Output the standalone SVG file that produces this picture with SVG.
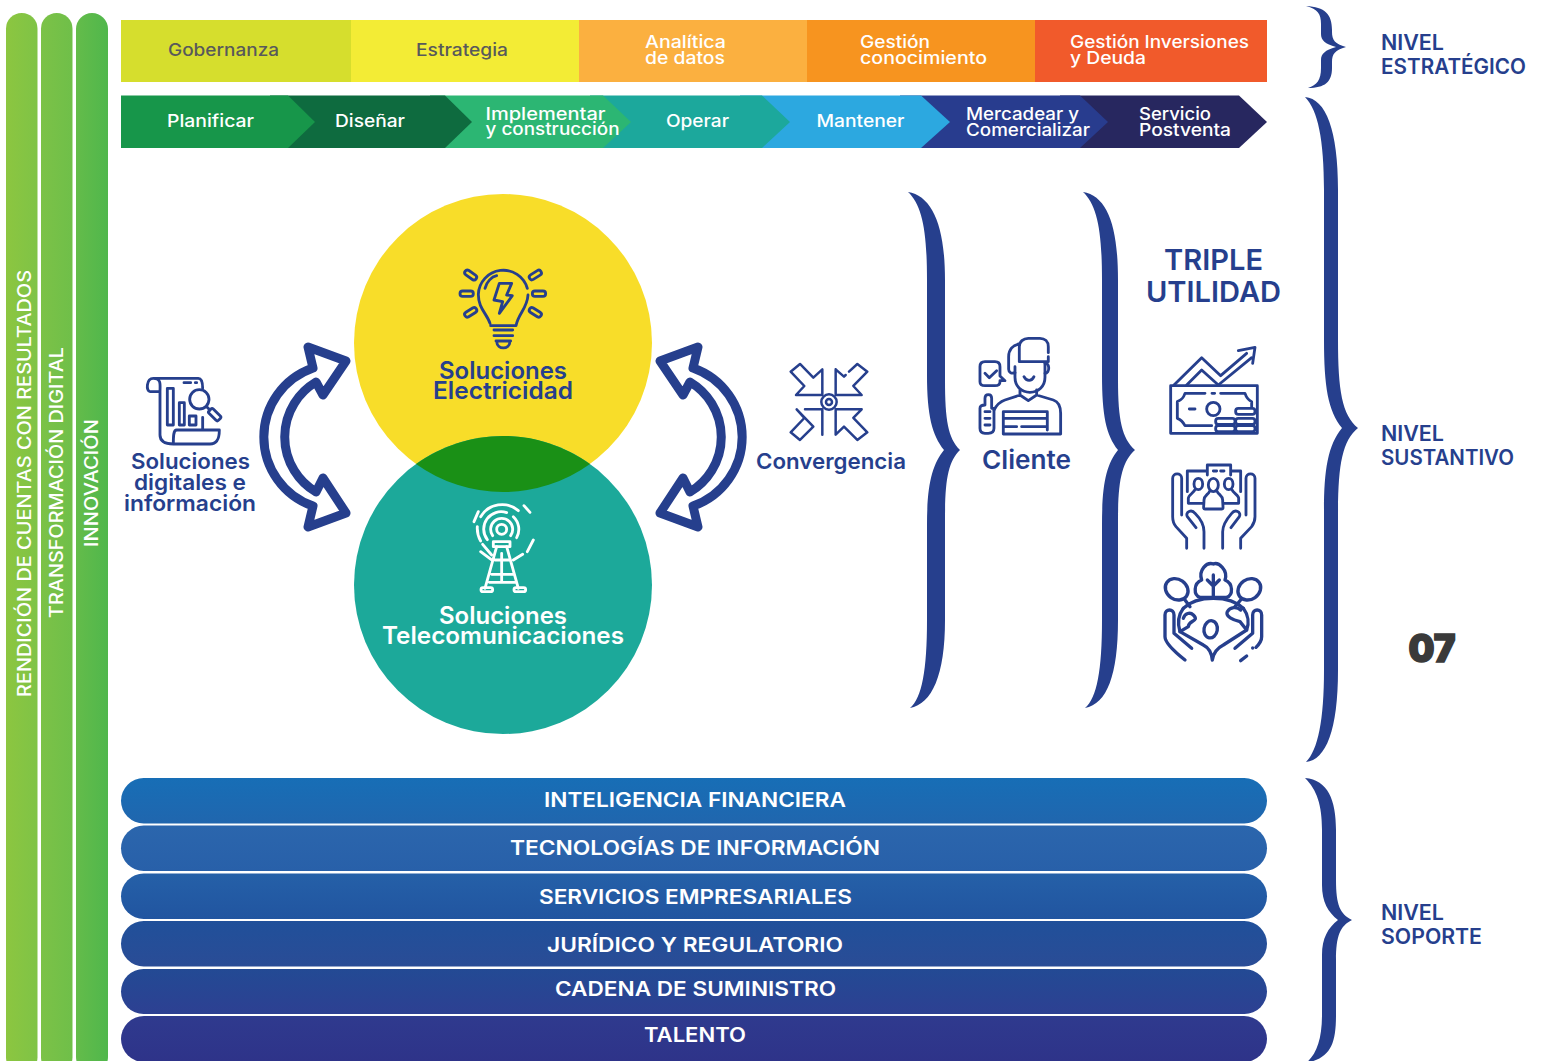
<svg xmlns="http://www.w3.org/2000/svg" width="1541" height="1061" viewBox="0 0 1541 1061">
<style>
text{font-family:"Inter","Liberation Sans",sans-serif;font-weight:500}
.w{fill:#fff}.g{fill:#58595b}.b{fill:#263f8d;font-weight:600}
.s16{font-size:17px}.s18{font-size:18px}.s22{font-size:22px}.s24{font-size:24px;font-weight:600}.s21{font-size:21px;font-weight:600}
.s19{font-size:20px;font-weight:600}
.i{fill:none;stroke:#263f8d;stroke-width:8.5;stroke-linecap:round;stroke-linejoin:round}
.t{fill:none;stroke:#fff;stroke-width:8.5;stroke-linecap:round;stroke-linejoin:round}
.brace{fill:#263f8d}
.cyc{fill:#fff;stroke:#263f8d;stroke-width:9;stroke-linejoin:round}
</style>
<defs>
<linearGradient id="b1" x1="0" x2="1" y1="0" y2="0"><stop offset="0" stop-color="#8cc640"/><stop offset="1" stop-color="#7fc346"/></linearGradient>
<linearGradient id="b2" x1="0" x2="1" y1="0" y2="0"><stop offset="0" stop-color="#7cc247"/><stop offset="1" stop-color="#6fbf49"/></linearGradient>
<linearGradient id="b3" x1="0" x2="1" y1="0" y2="0"><stop offset="0" stop-color="#64bc4a"/><stop offset="1" stop-color="#50b74c"/></linearGradient>
<linearGradient id="p1" x1="0" x2="0" y1="0" y2="1"><stop offset="0" stop-color="#176eb6"/><stop offset="1" stop-color="#2066ae"/></linearGradient>
<linearGradient id="p2" x1="0" x2="0" y1="0" y2="1"><stop offset="0" stop-color="#2b66ad"/><stop offset="1" stop-color="#2860a9"/></linearGradient>
<linearGradient id="p3" x1="0" x2="0" y1="0" y2="1"><stop offset="0" stop-color="#2560a8"/><stop offset="1" stop-color="#2155a0"/></linearGradient>
<linearGradient id="p4" x1="0" x2="0" y1="0" y2="1"><stop offset="0" stop-color="#20509a"/><stop offset="1" stop-color="#2a4c96"/></linearGradient>
<linearGradient id="p5" x1="0" x2="0" y1="0" y2="1"><stop offset="0" stop-color="#234a94"/><stop offset="1" stop-color="#2d4092"/></linearGradient>
<linearGradient id="p6" x1="0" x2="0" y1="0" y2="1"><stop offset="0" stop-color="#2f3a8e"/><stop offset="1" stop-color="#2e3389"/></linearGradient>
</defs>
<rect width="1541" height="1061" fill="#fff"/>

<g id="eje-rendicion"><rect x="6" y="13" width="31.5" height="1060" rx="15.7" fill="url(#b1)"/>
<text class="w s18" transform="translate(30.5 697) rotate(-90)" textLength="427" lengthAdjust="spacingAndGlyphs">RENDICIÓN DE CUENTAS CON RESULTADOS</text></g>
<g id="eje-transformacion"><rect x="41" y="13" width="31.5" height="1060" rx="15.7" fill="url(#b2)"/>
<text class="w s18" transform="translate(62.5 618) rotate(-90)" textLength="271" lengthAdjust="spacingAndGlyphs">TRANSFORMACIÓN DIGITAL</text></g>
<g id="eje-innovacion"><rect x="76" y="13" width="32" height="1060" rx="16" fill="url(#b3)"/>
<text class="w s18" transform="translate(97.5 547) rotate(-90)" textLength="128" lengthAdjust="spacingAndGlyphs">INNOVACIÓN</text></g>

<g id="gobernanza"><rect x="121" y="20" width="230" height="62" fill="#d6de2d"/><text class="g s16" x="168" y="56" textLength="111" lengthAdjust="spacingAndGlyphs">Gobernanza</text></g>
<g id="estrategia"><rect x="351" y="20" width="228" height="62" fill="#f3ec35"/><text class="g s16" x="416" y="56" textLength="92" lengthAdjust="spacingAndGlyphs">Estrategia</text></g>
<g id="analitica"><rect x="579" y="20" width="228" height="62" fill="#fbb040"/><text class="w s16" x="645" y="48" textLength="81" lengthAdjust="spacingAndGlyphs">Analítica</text><text class="w s16" x="645" y="64" textLength="80" lengthAdjust="spacingAndGlyphs">de datos</text></g>
<g id="gestion-conocimiento"><rect x="807" y="20" width="228" height="62" fill="#f7941f"/><text class="w s16" x="860" y="48" textLength="70" lengthAdjust="spacingAndGlyphs">Gestión</text><text class="w s16" x="860" y="64" textLength="127" lengthAdjust="spacingAndGlyphs">conocimiento</text></g>
<g id="gestion-inversiones"><rect x="1035" y="20" width="232" height="62" fill="#f15a2b"/><text class="w s16" x="1070" y="48" textLength="179" lengthAdjust="spacingAndGlyphs">Gestión Inversiones</text><text class="w s16" x="1070" y="64" textLength="76" lengthAdjust="spacingAndGlyphs">y Deuda</text></g>

<g id="servicio"><polygon points="1060,95.5 1239,95.5 1267,122 1239,148 1060,148" fill="#27275f"/><text class="w s16" x="1139" y="120" textLength="72" lengthAdjust="spacingAndGlyphs">Servicio</text><text class="w s16" x="1139" y="136" textLength="92" lengthAdjust="spacingAndGlyphs">Postventa</text></g>
<g id="mercadear"><polygon points="900,95.5 1080,95.5 1108,122 1080,148 900,148" fill="#283c8e"/><text class="w s16" x="966" y="120" textLength="113" lengthAdjust="spacingAndGlyphs">Mercadear y</text><text class="w s16" x="966" y="136" textLength="124" lengthAdjust="spacingAndGlyphs">Comercializar</text></g>
<g id="mantener"><polygon points="740,95.5 921,95.5 950,122 921,148 740,148" fill="#2ca8e0"/><text class="w s16" x="816.5" y="127" textLength="88" lengthAdjust="spacingAndGlyphs">Mantener</text></g>
<g id="operar"><polygon points="590,95.5 762,95.5 790,122 762,148 590,148" fill="#1ca89c"/><text class="w s16" x="666" y="127" textLength="63" lengthAdjust="spacingAndGlyphs">Operar</text></g>
<g id="implementar"><polygon points="430,95.5 603,95.5 631,122 603,148 430,148" fill="#2cb673"/><text class="w s16" x="485.5" y="120" textLength="120" lengthAdjust="spacingAndGlyphs">Implementar</text><text class="w s16" x="485.5" y="135" textLength="134" lengthAdjust="spacingAndGlyphs">y construcción</text></g>
<g id="disenar"><polygon points="270,95.5 445,95.5 472,122 445,148 270,148" fill="#0e6b3f"/><text class="w s16" x="335" y="127" textLength="70" lengthAdjust="spacingAndGlyphs">Diseñar</text></g>
<g id="planificar"><polygon points="121,95.5 288,95.5 315,122 288,148 121,148" fill="#17964a"/><text class="w s16" x="167" y="127" textLength="87" lengthAdjust="spacingAndGlyphs">Planificar</text></g>

<g id="connectors">
<path class="cyc" d="M346 361L308 347L313 368A73 73 0 0 0 313 506L308 527L346 513L323 478L316 492A64 64 0 0 1 316 382L323 395Z"/>
<path class="cyc" transform="translate(1006 0) scale(-1 1)" d="M346 361L308 347L313 368A73 73 0 0 0 313 506L308 527L346 513L323 478L316 492A64 64 0 0 1 316 382L323 395Z"/>
<path class="brace" d="M908 192C932 196 945 225 945 280L945 380C945 420 948 438 960 450C948 462 945 480 945 520L945 620C945 675 932 704 910 708C922 698 927 670 927 620L927 525C927 485 932 465 944 450C932 435 927 415 927 375L927 280C927 230 922 205 908 192Z"/>
<path class="brace" d="M1083 192C1107 196 1118 225 1118 280L1118 380C1118 420 1122 438 1135 450C1122 462 1118 480 1118 520L1118 620C1118 675 1107 704 1085 708C1097 698 1102 670 1102 620L1102 525C1102 485 1106 465 1118 450C1106 435 1102 415 1102 375L1102 280C1102 230 1097 205 1083 192Z"/>
<path class="brace" d="M1305 97C1326 99 1338 130 1338 190L1338 340C1338 390 1342 415 1358 428C1342 441 1338 466 1338 516L1338 670C1338 730 1326 760 1306 762C1318 750 1324 720 1324 670L1324 510C1324 470 1328 445 1342 428C1328 411 1324 386 1324 340L1324 190C1324 140 1318 110 1305 97Z"/>
<path class="brace" d="M1306 6C1325 7 1332 14 1332 30L1332 32C1332 40 1335 44 1346 47C1335 50 1332 54 1332 62L1332 68C1332 82 1325 88 1308 88C1317 85 1321 80 1321 68L1321 60C1321 54 1325 50 1336 47C1325 44 1321 40 1321 34L1321 24C1321 14 1318 9 1306 6Z"/>
<path class="brace" d="M1305 778C1328 780 1336 800 1336 830L1336 880C1336 905 1340 914 1352 920C1340 926 1336 936 1336 960L1336 1015C1336 1045 1330 1058 1306 1063C1316 1055 1322 1040 1322 1015L1322 955C1322 938 1328 928 1338 920C1328 912 1322 902 1322 885L1322 830C1322 805 1317 790 1305 778Z"/>
</g>

<g id="soluciones-electricidad"><circle cx="503" cy="343" r="149" fill="#f8dd29"/></g>
<g id="soluciones-telecomunicaciones"><circle cx="503" cy="585" r="149" fill="#1ca99a"/>
<path d="M416 464A149 149 0 0 1 590 464A149 149 0 0 1 416 464Z" fill="#1a9016"/></g>

<g id="label-electricidad">
<text class="b s24" x="439" y="378.5" textLength="128" lengthAdjust="spacingAndGlyphs">Soluciones</text>
<text class="b s24" x="433" y="398.5" textLength="140" lengthAdjust="spacingAndGlyphs">Electricidad</text>
<g class="i" transform="translate(440 255) scale(.3333)">
<path d="M150 205C140 175 115 160 115 118A75 75 0 0 1 262 100M264 120C262 160 235 175 228 212L152 212"/>
<path d="M135 100C140 80 155 65 170 62"/>
<path d="M178 85L215 85L200 120L217 122L178 175L188 140L162 135Z"/>
<path d="M162 225H218M162 242H218M168 258H212M170 260C172 285 208 285 210 260"/>
<rect x="-20" y="-8" width="40" height="16" rx="8" transform="translate(92 60) rotate(35)"/>
<rect x="-20" y="-8" width="40" height="16" rx="8" transform="translate(80 116)"/>
<rect x="-20" y="-8" width="40" height="16" rx="8" transform="translate(92 172) rotate(-32)"/>
<rect x="-20" y="-8" width="40" height="16" rx="8" transform="translate(286 60) rotate(-32)"/>
<rect x="-20" y="-8" width="40" height="16" rx="8" transform="translate(297 116)"/>
<rect x="-20" y="-8" width="40" height="16" rx="8" transform="translate(286 172) rotate(32)"/>
</g></g>

<g id="label-telecomunicaciones">
<text class="w s24" x="439" y="623.5" textLength="128" lengthAdjust="spacingAndGlyphs">Soluciones</text>
<text class="w s24" x="382" y="643.5" textLength="242" lengthAdjust="spacingAndGlyphs">Telecomunicaciones</text>
<g class="t" transform="translate(450 495) scale(.3333)">
<circle cx="155" cy="103" r="15"/>
<path d="M128 122A33 33 0 1 1 182 122"/>
<path d="M112 134A52 52 0 0 1 170 53M190 65A52 52 0 0 1 200 128"/>
<path d="M92 65A75 75 0 0 1 205 47M82 95A75 75 0 0 0 92 138M72 80L85 50M222 32L240 52M250 135L232 170M98 148L125 180M92 170L125 195M218 178L190 195"/>
<path d="M130 140H180L180 155H130Z"/>
<path d="M140 155L105 280M170 155L205 280M135 195H178M125 238H190M118 262H195M155 175V262"/>
<rect x="93" y="278" width="35" height="12" rx="6"/><rect x="192" y="278" width="35" height="12" rx="6"/>
</g></g>

<g id="soluciones-digitales">
<g class="i" transform="translate(120 330) scale(.3333)">
<path d="M120 185H90C78 185 78 145 100 145H235C248 145 248 165 248 175M100 145C125 145 120 165 120 185V315C120 335 135 342 160 342H270C295 342 298 320 298 300H170C160 300 160 320 160 342M248 262V300"/>
<rect x="142" y="175" width="18" height="110"/><rect x="178" y="218" width="15" height="67"/><rect x="208" y="258" width="20" height="27"/>
<path d="M192 158H212M226 158H230"/>
<circle cx="238" cy="208" r="29"/>
<path d="M260 230L270 240"/>
<rect x="-20" y="-9" width="40" height="18" rx="5" transform="translate(284 254) rotate(45)"/>
</g>
<text class="b s22" x="131" y="469" textLength="119" lengthAdjust="spacingAndGlyphs">Soluciones</text>
<text class="b s22" x="134" y="490" textLength="112" lengthAdjust="spacingAndGlyphs">digitales e</text>
<text class="b s22" x="124" y="511" textLength="132" lengthAdjust="spacingAndGlyphs">información</text>
</g>

<g id="convergencia">
<g class="i" style="stroke-width:7.5" transform="translate(770 330) scale(.3333)">
<circle cx="177" cy="216" r="23"/><circle cx="177" cy="216" r="9"/>
<path d="M157 118V195H78L103 168L62 125L90 102L130 143Z"/>
<path d="M197 118V195H275L250 168L292 125L262 102L237 125M227 135L222 140L197 118"/>
<path d="M157 314V238H105M80 238L103 264L62 307L90 330L130 290Z"/>
<path d="M197 314V238H275L250 264L292 307L262 330L222 290Z"/>
</g>
<text class="b s22" x="756" y="469" textLength="150" lengthAdjust="spacingAndGlyphs">Convergencia</text>
</g>

<g id="cliente">
<g class="i" transform="translate(770 330) scale(.3333)">
<path d="M748 95V50C748 35 760 25 775 25H810C825 25 835 35 835 50V68M835 80V95H750"/>
<path d="M748 42C728 45 716 60 716 80V118C716 128 725 132 735 128"/>
<path d="M735 110V142C735 170 755 187 780 187C805 187 825 170 825 142V98"/>
<path d="M825 100C840 98 840 130 825 130M762 140C770 155 785 155 792 140"/>
<path d="M750 180V195L775 212L800 195V180M750 195L705 210C690 215 680 225 672 240M800 195L850 210C865 215 872 230 872 250V312H700V245H832V300M700 265H832M700 290H740M755 290H832"/>
<path d="M645 95H675C685 95 690 100 690 110V138L705 152H690V155C690 162 685 167 675 167H645C635 167 630 162 630 155V110C630 100 635 95 645 95ZM645 130L658 143L680 122"/>
<path d="M645 225V205C645 190 665 190 665 205V235H672V295C672 305 665 310 655 310H645C635 310 630 305 630 295V235C630 228 636 225 645 225ZM645 245H660M645 265H660M645 285H660"/>
</g>
<text class="b" style="font-size:26px" x="982" y="469" textLength="89" lengthAdjust="spacingAndGlyphs">Cliente</text>
</g>

<g id="triple-utilidad">
<text class="b" style="font-size:29px" x="1164" y="270" textLength="99" lengthAdjust="spacingAndGlyphs">TRIPLE</text>
<text class="b" style="font-size:29px" x="1146" y="302" textLength="135" lengthAdjust="spacingAndGlyphs">UTILIDAD</text>
<g class="i" transform="translate(1150 335) scale(.3333)">
<rect x="62" y="152" width="260" height="143"/>
<path d="M72 150L155 68L212 122L290 55M265 47L315 37L308 85M110 150L155 105L205 150L305 68"/>
<path d="M165 175H105C100 190 95 195 82 200V250C95 255 100 262 105 272H185M212 175H285C290 190 295 195 305 200V215M186 175H194M118 222H135"/>
<circle cx="190" cy="222" r="20"/>
<rect x="197" y="250" width="58" height="18" rx="8"/><rect x="197" y="272" width="58" height="18" rx="8"/>
<rect x="257" y="220" width="58" height="18" rx="8"/><rect x="257" y="250" width="58" height="18" rx="8"/><rect x="257" y="272" width="58" height="18" rx="8"/>
<path d="M172 408V390H242V420M172 420V408H112V470M242 408H272V470M190 408H200M212 408H222"/>
<ellipse cx="145" cy="447" rx="13" ry="17"/><ellipse cx="190" cy="450" rx="15" ry="20"/><ellipse cx="236" cy="447" rx="13" ry="17"/>
<path d="M165 522C158 522 162 515 162 495C162 482 175 478 178 470M215 522C222 522 218 515 218 495C218 482 205 478 202 470M165 522H215M115 505V490C115 480 130 475 135 464M266 505V490C266 480 250 475 246 464M115 505H160M220 505H266"/>
<path d="M68 430C68 412 95 412 95 430V540M110 640V610L78 575C70 565 68 555 68 545V430M162 640V590C162 570 150 550 135 535C125 522 105 530 112 545L138 578"/>
<path d="M315 430C315 412 288 412 288 430V540M272 640V610L305 575C312 565 315 555 315 545V430M218 640V590C218 570 232 550 245 535C255 522 275 530 268 545L243 578"/>
</g>
<g class="i" style="stroke-width:10" transform="translate(1150 550) scale(.3333)">
<path d="M190 140V75M172 90L190 108L208 90M190 142H230C250 135 250 100 225 90C235 60 205 35 190 42C170 35 145 60 155 90C130 100 130 135 150 142H190"/>
<ellipse cx="80" cy="118" rx="36" ry="30" transform="rotate(35 80 118)"/>
<ellipse cx="298" cy="118" rx="36" ry="30" transform="rotate(-35 298 118)"/>
<path d="M105 150L120 170M272 150L255 170"/>
<path d="M100 175C140 135 240 135 280 175"/>
<ellipse cx="182" cy="238" rx="20" ry="26" transform="rotate(10 182 238)"/>
<path d="M100 175C85 195 82 220 90 245L115 230C115 210 150 215 130 195C120 185 105 190 100 205"/>
<path d="M280 175C295 195 298 220 290 240L270 215C250 210 225 200 232 185C240 170 262 170 272 180"/>
<path d="M45 195C45 175 72 175 72 195V250L125 295M45 195V260C45 280 80 310 105 330"/>
<path d="M335 195C335 175 308 175 308 195V250L255 295M335 195V260C335 275 325 285 318 292M290 318L272 332M308 294V294"/>
<path d="M90 245L160 285C180 295 185 310 187 330C190 310 200 295 220 285L290 240"/>
</g>
</g>

<g id="nivel-estrategico"><text class="b s21" x="1381" y="50" textLength="63" lengthAdjust="spacingAndGlyphs">NIVEL</text><text class="b s21" x="1381" y="74" textLength="145" lengthAdjust="spacingAndGlyphs">ESTRATÉGICO</text></g>
<g id="nivel-sustantivo"><text class="b s21" x="1381" y="441" textLength="63" lengthAdjust="spacingAndGlyphs">NIVEL</text><text class="b s21" x="1381" y="465" textLength="133" lengthAdjust="spacingAndGlyphs">SUSTANTIVO</text></g>
<g id="nivel-soporte"><text class="b s21" x="1381" y="920" textLength="63" lengthAdjust="spacingAndGlyphs">NIVEL</text><text class="b s21" x="1381" y="944" textLength="101" lengthAdjust="spacingAndGlyphs">SOPORTE</text></g>
<g id="numero"><text x="1408.5" y="662" style="font-size:38px;font-weight:900;fill:#3a3a3a;stroke:#3a3a3a;stroke-width:1.6" textLength="47" lengthAdjust="spacingAndGlyphs">07</text></g>

<g id="inteligencia"><rect x="121" y="778" width="1146" height="45.5" rx="22.7" fill="url(#p1)"/><text class="w s19" x="544" y="807" textLength="302" lengthAdjust="spacingAndGlyphs">INTELIGENCIA FINANCIERA</text></g>
<g id="tecnologias"><rect x="121" y="825.5" width="1146" height="45.5" rx="22.7" fill="url(#p2)"/><text class="w s19" x="510" y="855" textLength="370" lengthAdjust="spacingAndGlyphs">TECNOLOGÍAS DE INFORMACIÓN</text></g>
<g id="servicios"><rect x="121" y="873.5" width="1146" height="45.5" rx="22.7" fill="url(#p3)"/><text class="w s19" x="539" y="904" textLength="313" lengthAdjust="spacingAndGlyphs">SERVICIOS EMPRESARIALES</text></g>
<g id="juridico"><rect x="121" y="921" width="1146" height="45.5" rx="22.7" fill="url(#p4)"/><text class="w s19" x="547" y="952" textLength="296" lengthAdjust="spacingAndGlyphs">JURÍDICO Y REGULATORIO</text></g>
<g id="cadena"><rect x="121" y="969" width="1146" height="45" rx="22.5" fill="url(#p5)"/><text class="w s19" x="555" y="996" textLength="281" lengthAdjust="spacingAndGlyphs">CADENA DE SUMINISTRO</text></g>
<g id="talento"><rect x="121" y="1016" width="1146" height="46" rx="23" fill="url(#p6)"/><text class="w s19" x="644" y="1042" textLength="102" lengthAdjust="spacingAndGlyphs">TALENTO</text></g>
</svg>
